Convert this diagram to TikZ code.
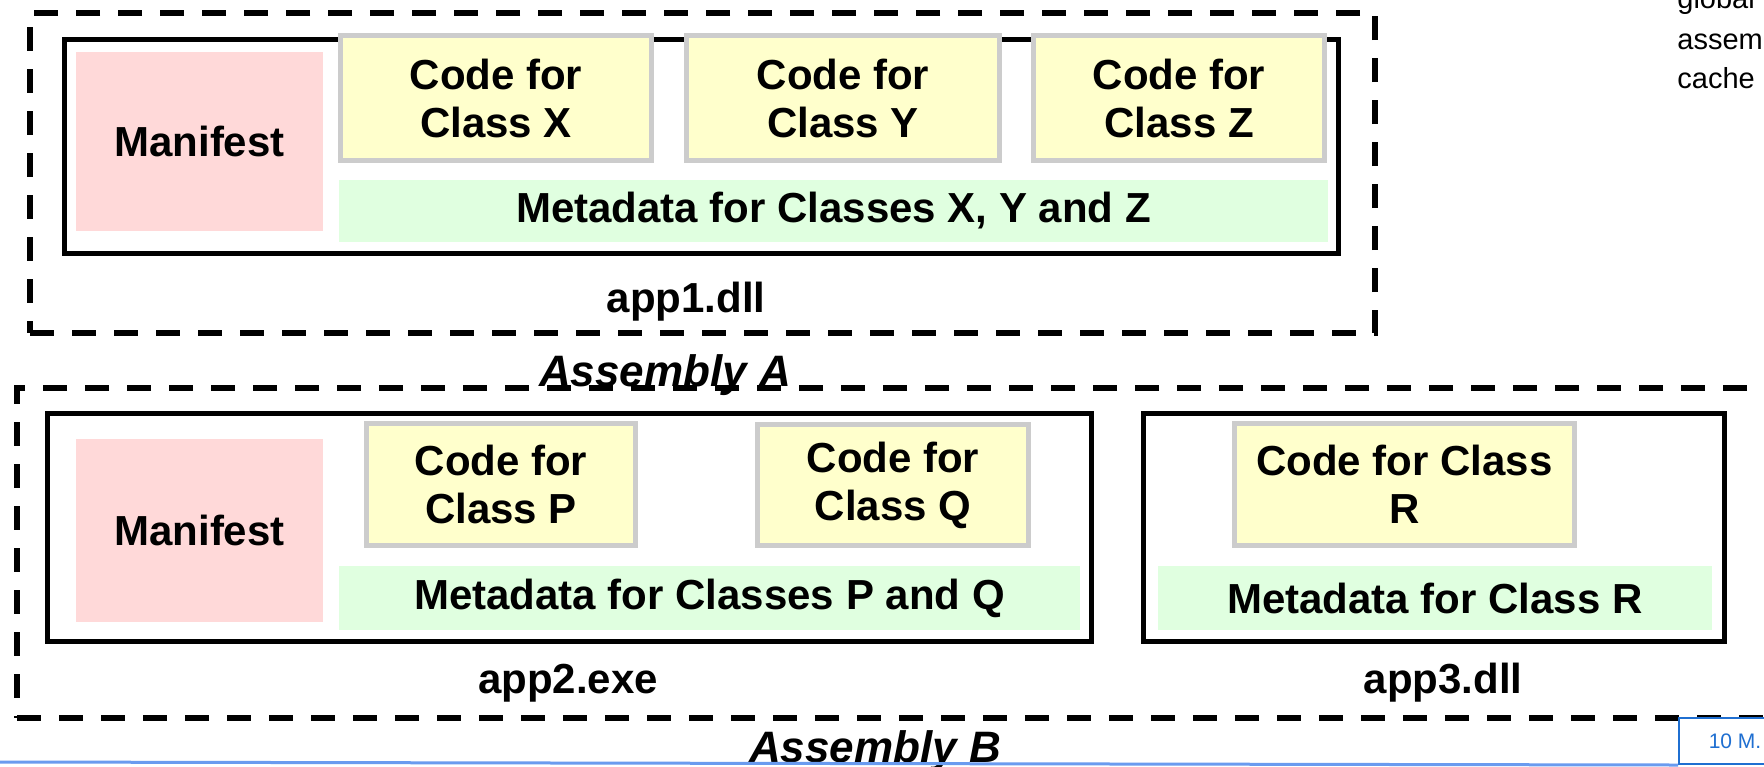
\documentclass[tikz,border=0pt]{standalone}
\usepackage{fontspec}
\setmainfont{Liberation Sans}
\definecolor{manifestpink}{HTML}{FFD9D9}
\definecolor{codeyellow}{HTML}{FFFFCC}
\definecolor{codegray}{HTML}{CCCCCC}
\definecolor{metagreen}{HTML}{E0FFE0}
\definecolor{linkblue}{HTML}{6A9BEF}
\definecolor{boxblue}{HTML}{1F6FD1}
\newcommand\rbox[7]{\node[#1, minimum width={((#5)-(#3))*0.5pt}, minimum height={((#6)-(#4))*0.5pt}] (#2) at ({((#3)+(#5))/2},{((#4)+(#6))/2}) {#7};}
\begin{document}
\begin{tikzpicture}[x=0.5pt,y=-0.5pt,
  asmbox/.style={draw=black, dash pattern=on 12pt off 9pt, line width=2.75pt, inner sep=0pt},
  filebox/.style={draw=black, line width=2.5pt, inner sep=0pt},
  bigtext/.style={font=\fontsize{21}{24}\bfseries\selectfont, align=center},
  manif/.style={fill=manifestpink, inner sep=0pt, bigtext},
  codebox/.style={fill=codeyellow, draw=codegray, line width=2.75pt, inner sep=0pt, bigtext},
  metabox/.style={fill=metagreen, inner sep=0pt, bigtext},
  filelabel/.style={anchor=base, inner sep=0pt, font=\fontsize{21}{24}\bfseries\selectfont},
  asmlabel/.style={anchor=base, inner sep=0pt, font=\fontsize{22}{26}\bfseries\itshape\selectfont},
  gactext/.style={anchor=base west, inner sep=0pt, font=\fontsize{14.5}{18}\selectfont}
]
\clip (0,0) rectangle (1764,766);
\fill[white] (0,0) rectangle (1764,766);

% Assembly A
\rbox{asmbox}{asmA}{30}{13}{1375}{333}{}
\rbox{filebox}{app1}{64.5}{39.5}{1338.5}{253.5}{}
\rbox{manif}{manA}{76}{52}{323}{231}{Manifest}
\rbox{codebox}{codeX}{340.5}{35.5}{651.5}{160.5}{Code for\\Class X}
\rbox{codebox}{codeY}{686.5}{35.5}{999.5}{160.5}{Code for\\Class Y}
\rbox{codebox}{codeZ}{1033.5}{35.5}{1324.5}{160.5}{Code for\\Class Z}
\rbox{metabox}{metaXYZ}{339}{180}{1328}{242}{Metadata for Classes X, Y and Z}
\node[filelabel] (app1lbl) at (686,312) {app1.dll};

% Assembly B
\rbox{asmbox}{asmB}{17}{388}{1830}{718}{}
\rbox{filebox}{app2}{47.5}{413.5}{1091.5}{641.5}{}
\rbox{manif}{manB}{76}{439}{323}{622}{Manifest}
\rbox{codebox}{codeP}{366.5}{423.5}{635.5}{545.5}{Code for\\Class P}
\rbox{codebox}{codeQ}{757.5}{424.5}{1028.5}{545.5}{Code for\\Class Q}
\rbox{metabox}{metaPQ}{339}{566}{1080}{630}{Metadata for Classes P and Q}
\node[filelabel] (app2lbl) at (568,693) {app2.exe};

\rbox{filebox}{app3}{1143.5}{413.5}{1724.5}{641.5}{}
\rbox{codebox}{codeR}{1234.5}{423.5}{1574.5}{545.5}{Code for Class\\R}
\rbox{metabox}{metaR}{1158}{566}{1712}{630}{Metadata for Class R}
\node[filelabel] (app3lbl) at (1443,693) {app3.dll};

% assembly labels
\node[asmlabel] (asmAlbl) at (665,386) {Assembly A};
\node[asmlabel] (asmBlbl) at (875,762) {Assembly B};

% global assembly cache (cut off at the right)
\node[gactext] (gac1) at (1677,8) {global};
\node[gactext] (gac2) at (1677,49) {assembly};
\node[gactext] (gac3) at (1677,88) {cache};

% bottom bar
\node[draw=boxblue, line width=1pt, fill=white, anchor=north west, inner sep=0pt,
      minimum width=70pt, minimum height=23pt, text=boxblue,
      font=\fontsize{10.5}{12}\selectfont] (tenm) at (1678,717) {\hspace*{-14pt}10 M.};
\coordinate (barstart) at (0,762);
\draw[linkblue, line width=1.5pt] (barstart) -- (tenm.south west);
\end{tikzpicture}
\end{document}
